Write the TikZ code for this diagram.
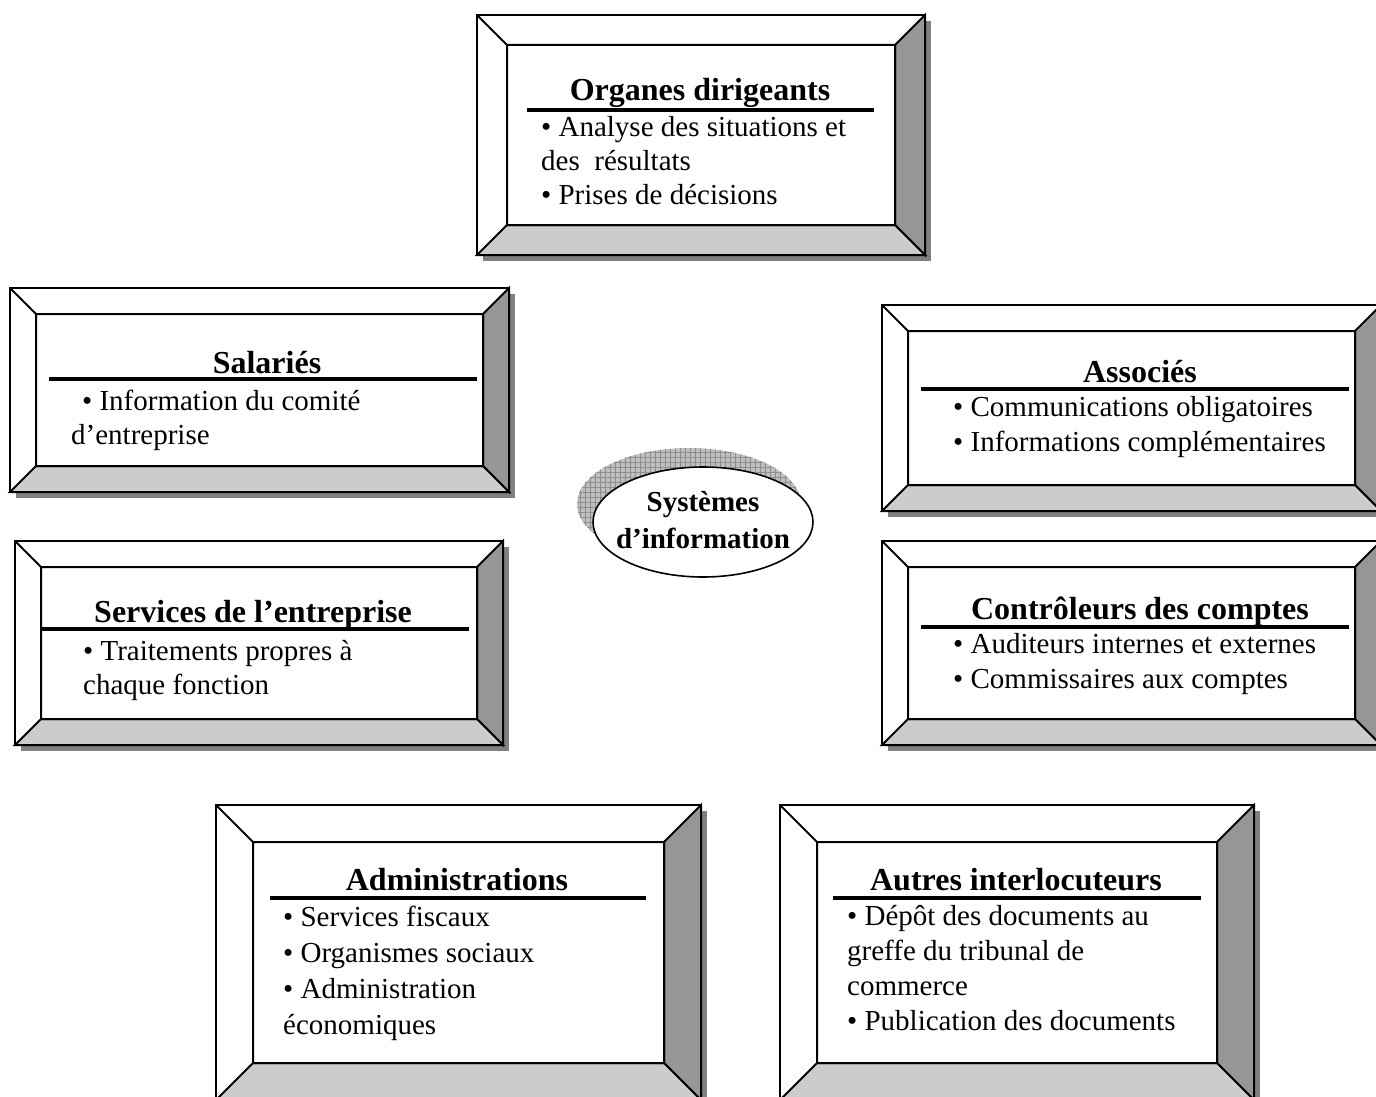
\documentclass[tikz,border=0pt]{standalone}
\usepackage{fontspec}
\setmainfont{Liberation Serif}
\usetikzlibrary{patterns.meta}

\tikzset{
	shadowfill/.style={fill=black!50},
	framebox/.style={fill=white,draw=black,line width=2.2pt},
	bevelright/.style={fill=black!41,draw=black,line width=2pt},
	bevelbottom/.style={fill=black!20,draw=black,line width=2pt},
	headtext/.style={font=\fontsize{32}{36}\selectfont\bfseries,anchor=base,inner sep=0pt},
	bodytext/.style={font=\fontsize{29}{34}\selectfont,anchor=base west,align=left,inner sep=0pt},
	headrule/.style={line width=3.5pt},
}

\begin{document}
\begin{tikzpicture}[x=1pt,y=-1pt]
	\useasboundingbox (0,0) rectangle (1376,1097);

	% bevelled frames: x1/y1/x2/y2/bevel
	\foreach \xa/\ya/\xb/\yb/\bw in {477/15/925/255/30, 10/288/509/492/26,
		882/305/1381/511/26, 15/541/503/745/26, 882/541/1381/745/26,
		216/805/701/1100/37, 780/805/1254/1100/37}{
		\fill[shadowfill] (\xa+6,\ya+6) rectangle (\xb+6,\yb+6);
		\draw[framebox] (\xa,\ya) rectangle (\xb,\yb);
		\draw[bevelright] (\xb,\ya) -- (\xb-\bw,\ya+\bw) -- (\xb-\bw,\yb-\bw) -- (\xb,\yb) -- cycle;
		\draw[bevelbottom] (\xa,\yb) -- (\xa+\bw,\yb-\bw) -- (\xb-\bw,\yb-\bw) -- (\xb,\yb) -- cycle;
		\draw[line width=2pt] (\xa,\ya) -- (\xa+\bw,\ya+\bw) rectangle (\xb-\bw,\yb-\bw);
	}

	% centre
	\fill[black!25] (689,504) ellipse [x radius=112,y radius=56];
	\fill[pattern={Lines[angle=0,distance=5pt,line width=0.7pt]},pattern color=black!45] (689,504) ellipse [x radius=112,y radius=56];
	\fill[pattern={Lines[angle=90,distance=5pt,line width=0.7pt]},pattern color=black!45] (689,504) ellipse [x radius=112,y radius=56];
	\draw[fill=white,line width=1.6pt] (703,522) ellipse [x radius=110,y radius=55];
	\node[headtext,font=\fontsize{29}{37}\selectfont\bfseries,align=center] (si) at (703,548) {Systèmes\\d’information};

	% base anchor = last line
	\node[headtext] (org-head) at (700,101) {Organes dirigeants};
	\draw[headrule] (527,110) -- (874,110);
	\node[bodytext] (org-list) at (541,204) {\textbullet\ Analyse des situations et\\des\ \ résultats\\\textbullet\ Prises de décisions};

	\node[headtext] (sal-head) at (267,373) {Salariés};
	\draw[headrule] (49,379) -- (477,379);
	\node[bodytext] (sal-list) at (71,444) {\hspace*{11pt}\textbullet\ Information du comité\\d’entreprise};

	\node[headtext] (ass-head) at (1140,382) {Associés};
	\draw[headrule] (921,389) -- (1349,389);
	\node[bodytext,font=\fontsize{29}{35}\selectfont] (ass-list) at (953,451) {\textbullet\ Communications obligatoires\\\textbullet\ Informations complémentaires};

	\node[headtext] (srv-head) at (253,622) {Services de l’entreprise};
	\draw[headrule] (41,629) -- (469,629);
	\node[bodytext] (srv-list) at (83,694) {\textbullet\ Traitements propres à\\chaque fonction};

	\node[headtext] (ctl-head) at (1140,619) {Contrôleurs des comptes};
	\draw[headrule] (921,627) -- (1349,627);
	\node[bodytext,font=\fontsize{29}{35}\selectfont] (ctl-list) at (953,688) {\textbullet\ Auditeurs internes et externes\\\textbullet\ Commissaires aux comptes};

	\node[headtext] (adm-head) at (457,890) {Administrations};
	\draw[headrule] (270,898) -- (646,898);
	\node[bodytext,font=\fontsize{29}{36}\selectfont] (adm-list) at (283,1034) {\textbullet\ Services fiscaux\\\textbullet\ Organismes sociaux\\\textbullet\ Administration\\économiques};

	\node[headtext] (aut-head) at (1016,890) {Autres interlocuteurs};
	\draw[headrule] (833,898) -- (1201,898);
	\node[bodytext,font=\fontsize{29}{35}\selectfont] (aut-list) at (847,1030) {\textbullet\ Dépôt des documents au\\greffe du tribunal de\\commerce\\\textbullet\ Publication des documents};

\end{tikzpicture}
\end{document}
